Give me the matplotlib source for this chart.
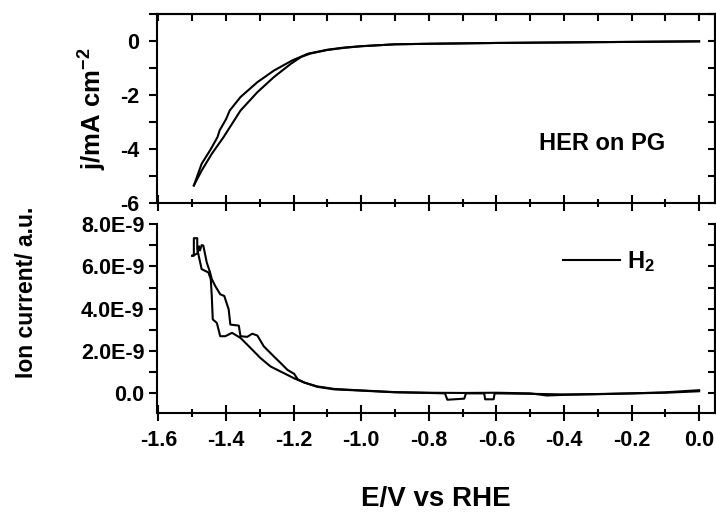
import matplotlib
matplotlib.use("Agg")
import matplotlib.pyplot as plt
from matplotlib.ticker import MultipleLocator, FuncFormatter, FixedLocator
import numpy as np

plt.rcParams['font.family'] = ['Liberation Sans', 'DejaVu Sans']
plt.rcParams['font.weight'] = 'bold'
plt.rcParams['axes.unicode_minus'] = False
plt.rcParams['mathtext.fontset'] = 'custom'
plt.rcParams['mathtext.rm'] = 'Liberation Sans:bold'
plt.rcParams['mathtext.bf'] = 'Liberation Sans:bold'
plt.rcParams['mathtext.it'] = 'Liberation Sans:bold'

# HER current, forward scan (0 -> -1.5 V)
E_fwd = [0.0, -0.2, -0.4, -0.6, -0.8, -0.9, -1.0, -1.05, -1.1, -1.15, -1.178,
         -1.208, -1.258, -1.307, -1.357, -1.407, -1.442, -1.472, -1.495]
j_fwd = [-0.01, -0.03, -0.05, -0.07, -0.10, -0.12, -0.19, -0.25, -0.33, -0.46, -0.59,
         -0.84, -1.33, -1.89, -2.57, -3.55, -4.17, -4.79, -5.34]
# HER current, backward scan (-1.5 -> 0 V)
E_bwd = [-1.495, -1.472, -1.445, -1.425, -1.419, -1.399, -1.389, -1.357, -1.307,
         -1.258, -1.203, -1.158, -1.10, -1.05, -1.0, -0.9, -0.8, -0.6, -0.4, -0.2, 0.0]
j_bwd = [-5.34, -4.54, -4.0, -3.55, -3.31, -2.87, -2.57, -2.07, -1.52,
         -1.09, -0.71, -0.47, -0.32, -0.24, -0.19, -0.12, -0.10, -0.07, -0.05, -0.03, -0.01]

# H2 ion current (in 1E-9 a.u.), forward scan
Eion_fwd = [0.0, -0.1, -0.2, -0.3, -0.4, -0.5, -0.605, -0.608, -0.633, -0.636, -0.69,
            -0.695, -0.745, -0.752, -0.8, -0.9, -1.0, -1.08, -1.13, -1.168, -1.198,
            -1.238, -1.268, -1.298, -1.327, -1.357, -1.382, -1.402, -1.417, -1.427,
            -1.439, -1.442, -1.445, -1.452, -1.472, -1.485, -1.485, -1.495, -1.495, -1.50]
ion_fwd = [0.10, 0.03, 0.0, -0.03, -0.05, -0.02, 0.0, -0.28, -0.28, 0.0, 0.0,
           -0.25, -0.30, 0.0, 0.02, 0.05, 0.13, 0.19, 0.31, 0.51, 0.71,
           1.03, 1.27, 1.67, 2.14, 2.62, 2.86, 2.70, 2.70, 3.33,
           3.49, 4.60, 5.40, 5.71, 5.87, 6.82, 7.33, 7.33, 6.5, 6.5]
# H2 ion current, backward scan
Eion_bwd = [-1.50, -1.485, -1.480, -1.477, -1.472, -1.467, -1.457, -1.447, -1.442,
            -1.432, -1.417, -1.405, -1.392, -1.387, -1.362, -1.357, -1.337, -1.322,
            -1.307, -1.288, -1.258, -1.238, -1.218, -1.198, -1.188, -1.168, -1.13,
            -1.08, -1.0, -0.9, -0.8, -0.7, -0.6, -0.5, -0.45, -0.4, -0.3, -0.2, -0.1, 0.0]
ion_bwd = [6.5, 6.6, 6.95, 6.75, 7.0, 6.98, 6.19, 5.71, 5.40,
           5.08, 4.68, 4.60, 3.97, 3.25, 3.20, 2.70, 2.67, 2.82,
           2.73, 2.22, 1.74, 1.43, 1.11, 0.92, 0.67, 0.51, 0.33,
           0.21, 0.14, 0.06, 0.03, 0.02, 0.03, 0.0, -0.10, -0.07, -0.04, 0.0, 0.05, 0.15]

x_ticks = [-1.6, -1.4, -1.2, -1.0, -0.8, -0.6, -0.4, -0.2, 0.0]
j_ticks = [0, -2, -4, -6]
ion_ticks = [0.0, 2.0, 4.0, 6.0, 8.0]

LW = 1.5
FS_TICK = 15.5


def style_axis(ax):
    for s in ax.spines.values():
        s.set_linewidth(LW)
    ax.xaxis.set_major_locator(FixedLocator(x_ticks))
    ax.xaxis.set_minor_locator(MultipleLocator(0.1))
    ax.tick_params(axis='x', which='major', direction='inout', length=12, width=LW)
    ax.tick_params(axis='x', which='minor', direction='inout', length=6, width=LW)
    ax.tick_params(axis='y', which='both', direction='out', length=6, width=LW,
                   labelsize=FS_TICK)
    ax.set_xlim(-1.604, 0.047)


fig = plt.figure(figsize=(7.16, 5.12), dpi=100)
ax1 = fig.add_axes([0.2193, 0.6029, 0.7793, 0.3697])
ax2 = fig.add_axes([0.2193, 0.1924, 0.7793, 0.3701])

# top panel: current density
style_axis(ax1)
ax1.plot(E_fwd, j_fwd, color='black', lw=LW)
ax1.plot(E_bwd, j_bwd, color='black', lw=LW)
ax1.set_ylim(-6, 1)
ax1.yaxis.set_major_locator(FixedLocator(j_ticks))
ax1.yaxis.set_minor_locator(MultipleLocator(1))
ax1.tick_params(axis='y', pad=7)
ax1.tick_params(axis='x', labelbottom=False)
ax1.text(0.797, 0.318, 'HER on PG', transform=ax1.transAxes, fontsize=17,
         fontweight='bold', ha='center', va='center')
top1 = ax1.secondary_xaxis('top')
top1.xaxis.set_major_locator(FixedLocator(x_ticks))
top1.xaxis.set_minor_locator(MultipleLocator(0.1))
top1.tick_params(which='both', direction='in', length=5, width=LW, labeltop=False)
top1.spines['top'].set_linewidth(LW)
right1 = ax1.secondary_yaxis('right')
right1.yaxis.set_major_locator(FixedLocator(j_ticks))
right1.yaxis.set_minor_locator(MultipleLocator(1))
right1.tick_params(which='both', direction='in', length=5, width=LW, labelright=False)
right1.spines['right'].set_linewidth(LW)

# bottom panel: ion current
style_axis(ax2)
ax2.spines['top'].set_visible(False)
ax2.plot(Eion_fwd, np.array(ion_fwd) * 1e-9, color='black', lw=LW, label=r'H$_2$')
ax2.plot(Eion_bwd, np.array(ion_bwd) * 1e-9, color='black', lw=LW)
ax2.set_ylim(-0.95e-9, 8e-9)
ax2.yaxis.set_major_locator(FixedLocator([v * 1e-9 for v in ion_ticks]))
ax2.yaxis.set_minor_locator(MultipleLocator(1e-9))
ax2.yaxis.set_major_formatter(FuncFormatter(
    lambda v, p: '0.0' if abs(v) < 1e-12 else '%.1fE-9' % (v / 1e-9)))
ax2.xaxis.set_major_formatter(FuncFormatter(lambda v, p: '%.1f' % v))
ax2.tick_params(axis='y', pad=3)
ax2.tick_params(axis='x', labelsize=FS_TICK, pad=6)
right2 = ax2.secondary_yaxis('right')
right2.yaxis.set_major_locator(FixedLocator([v * 1e-9 for v in ion_ticks]))
right2.yaxis.set_minor_locator(MultipleLocator(1e-9))
right2.tick_params(which='both', direction='in', length=5, width=LW, labelright=False)
right2.spines['right'].set_linewidth(LW)
ax2.legend(loc='center left', bbox_to_anchor=(0.7276, 0.801), frameon=False,
           fontsize=17, handlelength=2.4, handletextpad=0.3,
           borderpad=0, borderaxespad=0)

# axis titles
ax2.set_xlabel('E/V vs RHE', fontsize=20, fontweight='bold')
ax2.xaxis.set_label_coords(0.5, -0.385)
fig.text(93 / 716, 1 - 109 / 512, r'j/mA cm$^{-2}$', rotation=90, fontsize=18.5,
         fontweight='bold', ha='center', va='center')
fig.text(27 / 716, 1 - 292 / 512, 'Ion current/ a.u.', rotation=90, fontsize=16.5,
         fontweight='bold', ha='center', va='center')

fig.savefig('out.png', dpi=100)
